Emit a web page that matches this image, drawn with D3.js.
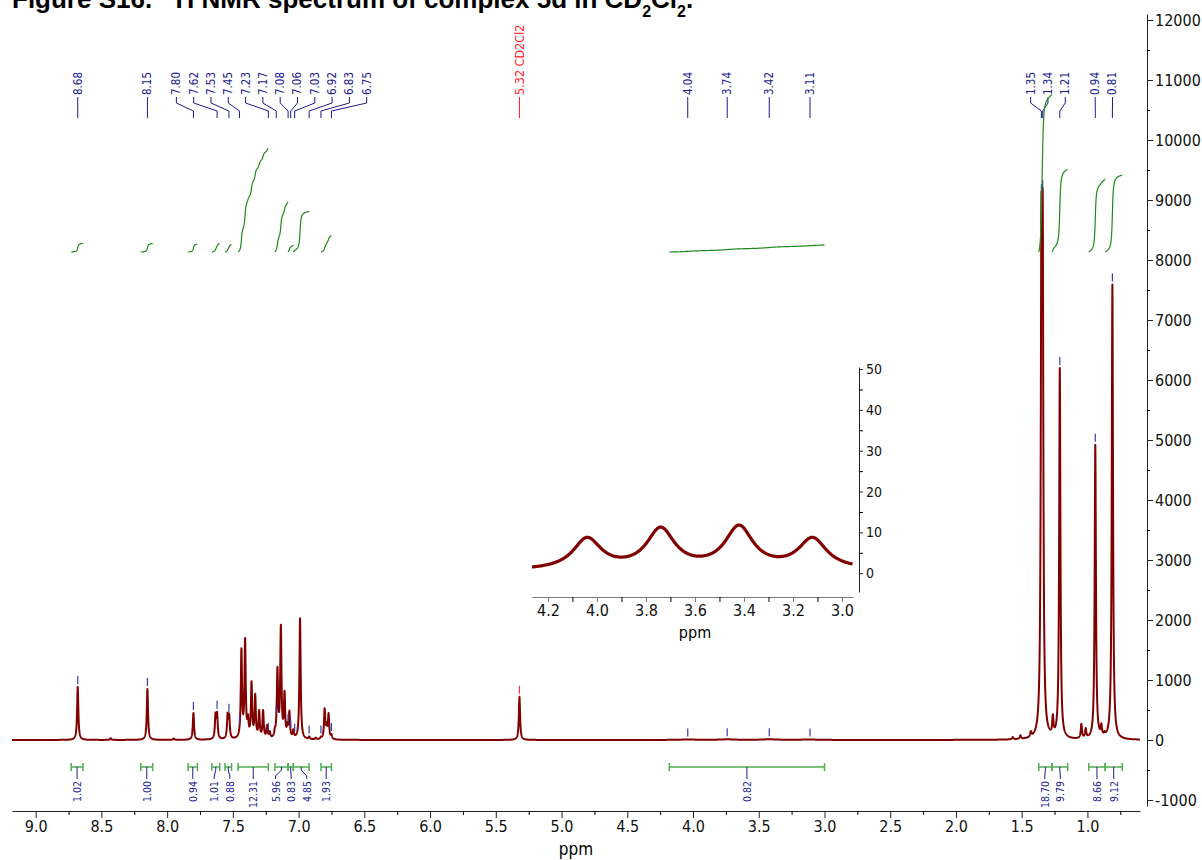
<!DOCTYPE html>
<html>
<head>
<meta charset="utf-8">
<script src="https://cdn.jsdelivr.net/npm/d3@7"></script>
<style>
body { margin: 0; background: #fff; }
svg { display: block; }
</style>
</head>
<body>
<svg id="chart" width="1202" height="860"></svg>
<script>
// peaks: position (ppm) and apparent height
var peakPpm    = [8.68, 8.43, 8.15, 7.95, 7.80, 7.70, 7.632, 7.620, 7.540, 7.528, 7.45, 7.435, 7.407, 7.385, 7.358, 7.33, 7.30, 7.27, 7.24, 7.22,
                  7.18, 7.161, 7.135, 7.107, 7.085, 7.07, 7.04, 6.989, 6.92, 6.87, 6.83, 6.802, 6.787, 6.772, 6.75,
                  5.32, 1.568, 1.51, 1.43, 1.350, 1.340, 1.31, 1.263, 1.21, 1.046, 1.013, 0.94, 0.894, 0.87, 0.81, 0.736];
var peakHeight = [885, 30, 850, 25, 450, 12, 460, 470, 460, 440, 170, 1530, 1700, 430, 980, 770, 500, 500, 250, 150,
                  220, 1220, 1920, 820, 300, 490, 180, 2030, 60, 40, 60, 530, 300, 450, 100,
                  720, 50, 80, 150, 9080, 9150, 250, 430, 6200, 270, 200, 4920, 280, 150, 7590, 50];
// broad humps between 3 and 4.2 ppm (seen in the inset)
var humpPpm    = [4.04, 3.74, 3.42, 3.12];
var humpHeight = [8.8, 11.3, 11.8, 8.8];
var baseLevel = 0.4;
var sharpWidth = 0.0055, humpWidth = 0.07;

var labelPpm = [8.68, 8.15, 7.80, 7.62, 7.53, 7.45, 7.23, 7.17, 7.08, 7.06, 7.03, 6.92, 6.83, 6.75,
                4.04, 3.74, 3.42, 3.11, 1.35, 1.34, 1.21, 0.94, 0.81];
var solventPpm = 5.32, solventName = "CD2Cl2";

// integration regions
var intFrom  = [8.73, 8.20, 7.84, 7.66, 7.56, 7.46, 7.18, 7.08, 7.04, 6.83, 4.18, 1.37, 1.27, 0.99, 0.865];
var intTo    = [8.64, 8.11, 7.77, 7.60, 7.51, 7.23, 7.08, 7.04, 6.92, 6.75, 3.00, 1.27, 1.15, 0.865, 0.735];
var intValue = [1.02, 1.00, 0.94, 1.01, 0.88, 12.31, 5.96, 0.83, 4.85, 1.93, 0.82, 18.70, 9.79, 8.66, 9.12];

var xTicks = [9.0, 8.5, 8.0, 7.5, 7.0, 6.5, 6.0, 5.5, 5.0, 4.5, 4.0, 3.5, 3.0, 2.5, 2.0, 1.5, 1.0];
var yTicks = [-1000, 0, 1000, 2000, 3000, 4000, 5000, 6000, 7000, 8000, 9000, 10000, 11000, 12000];
var insetXTicks = [4.2, 4.0, 3.8, 3.6, 3.4, 3.2, 3.0];
var insetYTicks = [0, 10, 20, 30, 40, 50];

var axisFont = "'Liberation Sans Narrow', 'DejaVu Sans Condensed', sans-serif";
var labelFont = "'DejaVu Sans Condensed', 'Liberation Sans Narrow', sans-serif";
var blue = "#1b1b8f", red = "#800000", green = "#1d8a1d", lightGreen = "#4fae4f";
var plain = function(d) { return String(d); };

var svg = d3.select("#chart");

// ---- line shape: sum of lorentzians, amplitudes solved so the tops match the heights
var amp = peakHeight.slice();
var hAmp = humpHeight.map(function(h) { return h - baseLevel; });
function lor(p, c, w) { var d = p - c; return w * w / (d * d + w * w); }
function spec(p) {
  var s = baseLevel;
  for (var i = 0; i < peakPpm.length; i++) s += amp[i] * lor(p, peakPpm[i], sharpWidth);
  for (var j = 0; j < humpPpm.length; j++) s += hAmp[j] * lor(p, humpPpm[j], humpWidth);
  return s;
}
for (var it = 0; it < 80; it++) {
  peakPpm.forEach(function(c, i) { amp[i] = Math.max(0, amp[i] + 0.4 * (peakHeight[i] - spec(c))); });
  humpPpm.forEach(function(c, i) { hAmp[i] = Math.max(0, hAmp[i] + 0.4 * (humpHeight[i] - spec(c))); });
}

// ---- scales
var x = d3.scaleLinear().domain([9.18, 0.60]).range([12, 1140]);
var y = d3.scaleLinear().domain([-1100, 12100]).range([806, 14]);

// title (cut off at the top edge like the source page)
var title = svg.append("text").attr("x", 12).attr("y", 8)
  .attr("font-family", "'Liberation Sans', Arial, sans-serif").attr("font-weight", "bold")
  .attr("font-size", 26).attr("fill", "#000");
title.append("tspan").text("Figure S16.   ");
title.append("tspan").attr("font-size", 16).attr("baseline-shift", "super").text("1");
title.append("tspan").text(" H NMR spectrum of complex 5d in CD");
title.append("tspan").attr("font-size", 16).attr("baseline-shift", "sub").text("2");
title.append("tspan").text("Cl");
title.append("tspan").attr("font-size", 16).attr("baseline-shift", "sub").text("2");
title.append("tspan").text(".");

// ---- axes
var xAxis = svg.append("g").attr("transform", "translate(0,811)")
  .call(d3.axisBottom(x).tickValues(xTicks).tickFormat(d3.format(".1f")).tickSize(7).tickSizeOuter(0));
svg.append("g").attr("transform", "translate(0,811)")
  .call(d3.axisBottom(x).tickValues(d3.range(8.75, 0.6, -0.5)).tickFormat("").tickSize(4).tickSizeOuter(0))
  .select(".domain").remove();
svg.append("text").attr("x", 576).attr("y", 855).attr("text-anchor", "middle")
  .attr("font-family", axisFont).attr("font-size", 17).text("ppm");

var yAxis = svg.append("g").attr("transform", "translate(1147,0)")
  .call(d3.axisRight(y).tickValues(yTicks).tickFormat(plain).tickSize(6).tickPadding(2).tickSizeOuter(0));
svg.append("g").attr("transform", "translate(1147,0)")
  .call(d3.axisRight(y).tickValues(d3.range(-500, 12000, 1000)).tickFormat("").tickSize(3).tickSizeOuter(0))
  .select(".domain").remove();
[xAxis, yAxis].forEach(function(g) {
  g.selectAll("text").attr("font-family", axisFont).attr("font-size", 16).attr("fill", "#111");
  g.selectAll("line, path").attr("stroke", "#222");
});

// ---- main spectrum
var pts = d3.range(9.18, 0.6, -0.001).concat(peakPpm).sort(function(a, b) { return b - a; });
svg.append("path").datum(pts)
  .attr("fill", "none").attr("stroke", red).attr("stroke-width", 2).attr("stroke-linejoin", "round")
  .attr("d", d3.line().x(function(p) { return x(p); }).y(function(p) { return y(spec(p)); }));

// ---- label spreading: keeps neighbours at least `gap` apart, clusters centred on their peaks
function spread(ideal, gap) {
  var groups = [];
  ideal.forEach(function(v) {
    groups.push({ sum: v, n: 1 });
    while (groups.length > 1) {
      var a = groups[groups.length - 2], b = groups[groups.length - 1];
      var aStart = a.sum / a.n - (a.n - 1) * gap / 2, bStart = b.sum / b.n - (b.n - 1) * gap / 2;
      if (aStart + a.n * gap > bStart) { a.sum += b.sum; a.n += b.n; groups.pop(); } else break;
    }
  });
  var out = [];
  groups.forEach(function(g) {
    var s = g.sum / g.n - (g.n - 1) * gap / 2;
    for (var k = 0; k < g.n; k++) out.push(s + k * gap);
  });
  return out;
}

// ---- peak labels
var peakX = labelPpm.map(function(p) { return x(p); });
var labX = spread(peakX, 17.3);
var pl = svg.append("g");
labelPpm.forEach(function(p, i) {
  pl.append("path").attr("fill", "none").attr("stroke", blue).attr("stroke-width", 1)
    .attr("d", "M" + labX[i] + ",97V103L" + peakX[i] + ",111V118");
  pl.append("text").attr("transform", "translate(" + labX[i] + ",95) rotate(-90)")
    .attr("dominant-baseline", "central").attr("font-family", labelFont).attr("font-size", 11.5)
    .attr("fill", blue).text(p.toFixed(2));
  var top = y(spec(p));
  pl.append("line").attr("x1", peakX[i]).attr("x2", peakX[i]).attr("y1", top - 3).attr("y2", top - 11)
    .attr("stroke", "#3a3aa8").attr("stroke-width", 1.2);
});
var sx = x(solventPpm);
pl.append("line").attr("x1", sx).attr("x2", sx).attr("y1", 97).attr("y2", 118).attr("stroke", "#ff2020");
pl.append("text").attr("transform", "translate(" + sx + ",95) rotate(-90)")
  .attr("dominant-baseline", "central").attr("font-family", labelFont).attr("font-size", 12.5)
  .attr("fill", "#ff2020").text(solventPpm.toFixed(2) + " " + solventName);
var stop = y(spec(solventPpm));
pl.append("line").attr("x1", sx).attr("x2", sx).attr("y1", stop - 3).attr("y2", stop - 11)
  .attr("stroke", "#ff3030").attr("stroke-width", 1.2);

// ---- integral curves and brackets
var ig = svg.append("g");
var intX = intFrom.map(function(a, i) { return x((a + intTo[i]) / 2); });
var intLabX = spread(intX, 15.6);
intFrom.forEach(function(a, i) {
  var b = intTo[i], step = 0.0005;
  var ps = d3.range(a, b, -step); ps.push(b);
  var cum = [0];
  for (var k = 1; k < ps.length; k++) cum.push(cum[k - 1] + (spec(ps[k - 1]) + spec(ps[k])) / 2 * Math.abs(ps[k - 1] - ps[k]));
  var total = cum[cum.length - 1];
  ig.append("path").datum(ps)
    .attr("fill", "none").attr("stroke", green).attr("stroke-width", 1.2)
    .attr("d", d3.line().x(function(p) { return x(p); })
      .y(function(p, k) { return 252 - cum[k] / total * intValue[i] * 8.42; }));

  var x0 = x(a), x1 = x(b);
  ig.append("path").attr("fill", "none").attr("stroke", lightGreen).attr("stroke-width", 1.5)
    .attr("d", "M" + x0 + ",767H" + x1 + "M" + x0 + ",763V771M" + x1 + ",763V771");
  ig.append("path").attr("fill", "none").attr("stroke", blue).attr("stroke-width", 1)
    .attr("d", "M" + intX[i] + ",767V770L" + intLabX[i] + ",776V779");
  ig.append("text").attr("transform", "translate(" + intLabX[i] + ",781) rotate(-90)")
    .attr("text-anchor", "end").attr("dominant-baseline", "central")
    .attr("font-family", labelFont).attr("font-size", 10.5).attr("fill", blue)
    .text(intValue[i].toFixed(2));
});

// ---- inset: 3.0 - 4.2 ppm enlarged
var xi = d3.scaleLinear().domain([4.265, 2.955]).range([532, 853]);
var yi = d3.scaleLinear().domain([-4.6, 50.5]).range([592, 367]);
var insetPts = d3.range(4.265, 2.955, -0.002);
svg.append("path").datum(insetPts)
  .attr("fill", "none").attr("stroke", red).attr("stroke-width", 3.2).attr("stroke-linejoin", "round")
  .attr("d", d3.line().x(function(p) { return xi(p); }).y(function(p) { return yi(spec(p)); }));

var ixAxis = svg.append("g").attr("transform", "translate(0,597)")
  .call(d3.axisBottom(xi).tickValues(insetXTicks).tickFormat(d3.format(".1f")).tickSize(5).tickSizeOuter(0));
svg.append("g").attr("transform", "translate(0,597)")
  .call(d3.axisBottom(xi).tickValues(d3.range(4.1, 2.95, -0.2)).tickFormat("").tickSize(5).tickSizeOuter(0))
  .select(".domain").remove();
ixAxis.selectAll("line, path").attr("stroke", "#777");
ixAxis.selectAll("text").attr("font-family", axisFont).attr("font-size", 16).attr("fill", "#111");
svg.append("text").attr("x", 695).attr("y", 638).attr("text-anchor", "middle")
  .attr("font-family", axisFont).attr("font-size", 16).text("ppm");

var iyAxis = svg.append("g").attr("transform", "translate(859,0)")
  .call(d3.axisRight(yi).tickValues(insetYTicks).tickSize(4).tickSizeOuter(0));
svg.append("g").attr("transform", "translate(859,0)")
  .call(d3.axisRight(yi).tickValues(d3.range(5, 50, 10)).tickFormat("").tickSize(4).tickSizeOuter(0))
  .select(".domain").remove();
iyAxis.selectAll("line, path").attr("stroke", "#222");
iyAxis.selectAll("text").attr("font-family", axisFont).attr("font-size", 14).attr("fill", "#111");
</script>
</body>
</html>
